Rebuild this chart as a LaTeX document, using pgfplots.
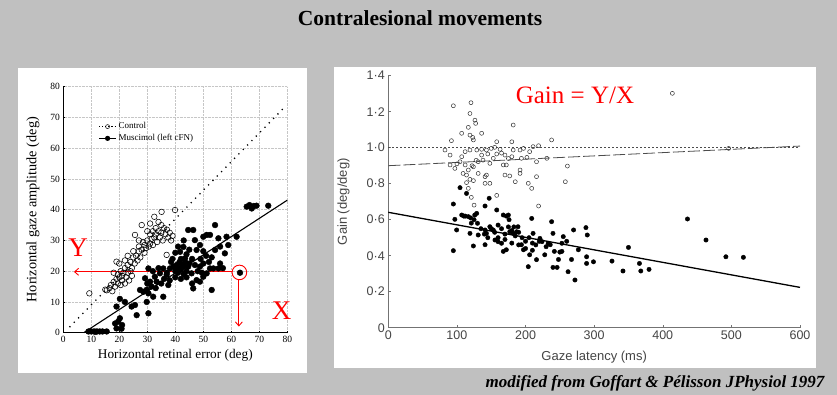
\documentclass[border=0pt]{standalone}
\usepackage{pgfplots}
\pgfplotsset{compat=1.18}
\usepackage{fontspec}
\setmainfont{Liberation Serif}
\newfontfamily\sansf{Liberation Sans}
\usetikzlibrary{arrows.meta}
\definecolor{slidegray}{HTML}{C0C0C0}
\definecolor{axgray}{HTML}{454545}
\begin{document}
\begin{tikzpicture}
\useasboundingbox (0pt,0pt) rectangle (837pt,395pt);
\fill[slidegray] (0pt,0pt) rectangle (837pt,395pt);
\fill[white] (18pt,22pt) rectangle (307pt,327pt);
\fill[white] (334pt,27pt) rectangle (816pt,328pt);
\coordinate (LO) at (63.3pt,62.3pt);
\coordinate (RO) at (388.3pt,67.3pt);
\node[font=\bfseries\fontsize{21.5}{21.5}\selectfont] at (420pt,377pt) {Contralesional movements};
\node[font=\bfseries\itshape\fontsize{17}{17}\selectfont, anchor=east] at (828pt,12pt) {modified from Goffart \& Pélisson JPhysiol 1997};

% ---------------- Left panel ----------------
\begin{axis}[at={(LO)}, anchor=south west, scale only axis,
  width=224pt, height=246pt, xmin=0, xmax=80, ymin=0, ymax=80,
  axis x line=bottom, axis y line=left,
  axis line style={-, line width=0.6pt},
  xtick={0,10,...,80}, ytick={0,10,...,80},
  tick style={black, line width=0.5pt}, major tick length=2pt, tick align=inside,
  grid=major, grid style={densely dotted, gray!45, line width=0.5pt},
  tick label style={font=\fontsize{9.5}{9.5}\selectfont},
  /pgf/number format/assume math mode=true,
  xlabel={Horizontal retinal error (deg)}, ylabel={Horizontal gaze amplitude (deg)},
  xlabel style={font=\fontsize{13.3}{13.3}\selectfont, at={(axis description cs:0.5,-0.09)}, anchor=center},
  ylabel style={font=\fontsize{14.3}{14.3}\selectfont, at={(axis description cs:-0.135,0.5)}, anchor=center, rotate=0},
  clip=false,
  legend style={at={(axis cs:12.5,69)}, anchor=north west, draw=none, fill=none,
    font=\fontsize{9}{9}\selectfont, inner sep=0pt, row sep=0pt},
  legend cell align=left,
]
\addlegendimage{dotted, line width=1.1pt, mark=o, mark options={solid, line width=0.5pt}, mark size=2pt}
\addlegendentry{Control}
\addlegendimage{solid, line width=1.1pt, mark=*, mark size=2pt}
\addlegendentry{Muscimol (left cFN)}
% regression lines
\addplot[black, line width=1.3pt, dash pattern=on 1.2pt off 5pt] coordinates {(2.2,1.8) (79.2,73.5)};
\addplot[black, line width=1.1pt] coordinates {(7.3,0) (80,43.1)};
% control
\addplot[only marks, mark=o, mark size=2.8pt, mark options={line width=0.55pt, fill=white}] coordinates {
(9.3,12.8)(19,23.1)(25.6,31.8)(28,35)(32.5,37.7)(35.1,39.3)(39.9,39.9)(36.9,25.3)
(15.5,13.8)(16.5,14.5)(17,15.5)(17.5,13.5)(18,16.5)(18.5,15)(19,17.5)(19.5,16)(19.5,19)
(20,18)(20.5,15.5)(20.5,20)(21,17)(21,18.5)(21.5,19.5)(22,16)(22,21)(22.5,18)(23,19.5)
(23,22)(23.5,17)(24,20)(24,23)(24.5,21)(25,24.5)(25.5,22.5)(26,25)(26.5,23.5)(27,26.5)
(27,28)(27.5,24.5)(28,27)(28.5,29.5)(29,26)(29,28.5)(29.5,27.5)(30,30)(30.5,28)(31,32)
(31,29)(31.5,30.5)(32,33)(32,28.5)(32.5,31)(33,34)(33,32)(33.5,29.5)(34,33)(34.5,31)
(35,35)(35,32.5)(35.5,30)(36,34)(36.5,32)(37,33.5)(37.5,31)(38,32.5)(38.5,30)(39,31.5)
(34,36)(31,35.5)(30,33)(23,25)(22,23.5)(25,26.5)(27,30)(20,22.5)(18,19.5)(15,14)(24.5,18.5)
};
% muscimol
\addplot[only marks, mark=*, mark size=2.9pt, black] coordinates {
(9,0.4)(10,0.4)(11,0.4)(12,0.4)(13,0.4)(14,0.4)(15.5,0.4)(11.5,0.3)
(19,1.4)(20.8,1.3)(18.5,3)(19.6,3.6)(20.2,4.7)(21,2.5)
(19,8.5)(20.2,11)(22,10)(24.4,8.5)(25.6,9)(26.2,5.7)(30.4,6.3)(27.4,13.9)(28.6,13.3)
(29.8,14)(30.4,12.8)(29.8,10)(32.1,11.7)(35.7,11.7)(29.2,17.7)(31,16.6)(32.7,18.2)
(33.3,16.6)(34.5,19.3)(35.7,20.9)(36.9,18.8)(38.1,20.9)(39.3,21.5)(31.5,15)(33,14.5)
(35,16)(36,17.5)(34,21)(37,19.5)(38,17)(32,20)(30,16)(37.5,15.5)(40,18)(30.4,20.9)
(40,20)(40.5,22)(41,19.5)(41,21)(41.5,23)(41.7,26.3)(42,20.5)(42,24)(42.5,22)(42.9,27.9)
(43,19)(43,21.5)(43.5,24.2)(43.5,23)(44,20)(44,25.5)(44.6,21.5)(45,22.5)(45,27)(45.8,19.3)
(46,24)(46.4,14.4)(46,16)(39,24)(38.5,23)(40,26)(41,28)(43,30)(42,17.5)(44,18)
(44.6,33.4)(46.4,33.4)(47,30.1)(47.6,26.9)(48.8,28.5)(50,31.2)(51.2,31.8)(52.4,31.8)
(54.2,35)(55.4,30.7)(56,28)(54.2,26.9)(58.3,31.2)(58.9,28.5)(57.7,25.8)
(48.8,21.5)(51.2,19.3)(52.4,20.9)(53.6,20.9)(55.4,20.9)(50,18.2)(48.8,16.6)(53,13.9)
(47.6,17.1)(49,24)(50,22.5)(51,25)(52,23)(47,22)(48,20)(53,24.5)(50,26.5)(56,22.5)(57,21)(49.5,19.5)
(61.9,31.2)(63.1,19.5)(65.5,41)(67.3,40.4)(68,41.2)(69,41.3)(66.5,41.5)(73.2,41.3)
};
% red annotations
\draw[red, line width=0.9pt, -{Straight Barb[length=4pt,width=7pt]}] (axis cs:60.3,19.8) -- (axis cs:3.8,19.8);
\draw[red, line width=0.9pt, -{Straight Barb[length=4pt,width=7pt]}] (axis cs:62.7,17.2) -- (axis cs:62.7,2);
\draw[red, line width=0.9pt] (axis cs:62.9,19.6) circle (7.3pt);
\node[red, font=\fontsize{27}{27}\selectfont] at (axis cs:5.25,27.5) {Y};
\node[red, font=\fontsize{27}{27}\selectfont] at (axis cs:78,7.1) {X};
\end{axis}

% ---------------- Right panel ----------------
\begin{axis}[at={(RO)}, anchor=south west, scale only axis,
  width=411.7pt, height=252pt, xmin=0, xmax=600, ymin=0, ymax=1.4,
  axis x line=bottom, axis y line=left,
  axis line style={-, black!55, line width=0.6pt},
  xtick={0,100,200,300,400,500,600}, xticklabels={0,100,200,300,400,500,600},
  ytick={0,0.2,0.4,0.6,0.8,1.0,1.2,1.4},
  yticklabels={0,0·2,0·4,0·6,0·8,1·0,1·2,1·4},
  tick style={black!55, line width=0.5pt}, major tick length=3pt, tick align=inside,
  tick label style={font=\sansf\fontsize{12.5}{12.5}\selectfont, text=axgray},
  xlabel={Gaze latency (ms)}, ylabel={Gain (deg/deg)},
  label style={font=\sansf\fontsize{13}{13}\selectfont, text=axgray},
  xlabel style={at={(axis description cs:0.5,-0.115)}, anchor=center},
  ylabel style={at={(axis description cs:-0.109,0.5)}, anchor=center, rotate=0},
  clip=false,
]
\addplot[black!70, line width=0.6pt, dash pattern=on 2pt off 2pt] coordinates {(0,1.0) (600,1.0)};
\addplot[black!70, line width=0.8pt, dash pattern=on 12pt off 3pt] coordinates {(0,0.9) (600,1.009)};
\addplot[black, line width=1.3pt] coordinates {(0,0.641) (600,0.224)};
% control
\addplot[only marks, mark=o, mark size=2pt, black!80, mark options={line width=0.5pt, fill=white}] coordinates {
(94.8,1.233)(120.5,1.25)(119,1.19)(126.3,1.153)(127.3,1.135)(116.6,1.113)(136,1.08)(106.9,1.08)
(119,1.07)(123,1.057)(124,1.043)(92,1.039)(182,1.126)(238,1.043)(414,1.302)(158,1.033)(180,1.033)
(219,1.011)(82.6,0.987)(90,0.959)(112,0.978)(119,0.987)(129,0.987)(136,0.991)(143,0.987)(150,0.996)
(155,1.002)(163,0.991)(170,0.959)(180,0.95)(182,0.987)(192,0.987)(197,0.996)(206,0.978)(211,1.006)
(194,0.941)(202,0.946)(231,0.941)(216,0.922)(496,0.996)(90,0.904)(97,0.885)(104.5,0.922)(112,0.904)
(116.6,0.876)(124,0.894)(131,0.857)(143,0.848)(141,0.839)(109,0.857)(114,0.848)(119,0.824)(124,0.817)
(114,0.806)(116.6,0.774)(141,0.802)(148,0.802)(167.6,0.904)(172,0.904)(170,0.848)(177,0.843)(185,0.811)
(192,0.857)(192,0.876)(204,0.802)(209,0.774)(216,0.839)(258,0.811)(261,0.898)(121,0.724)(125,0.681)
(158,0.735)(219,0.676)(131,0.922)(138,0.931)(153,0.941)(148,0.913)(158,0.965)(136,0.959)(107,0.95)
(100,0.91)(128,0.93)(165,0.97)(175,0.94)(145,0.965)(122,0.9)
};
% muscimol
\addplot[only marks, mark=*, mark size=2.2pt, black] coordinates {
(104.5,0.778)(114,0.746)(94.8,0.687)(97,0.602)(99.6,0.543)(94.8,0.428)(107,0.626)(112,0.62)
(116.6,0.617)(126,0.626)(128.8,0.635)(141,0.676)(147,0.719)(158,0.654)(167.6,0.626)(175,0.626)
(121,0.581)(119,0.524)(124,0.454)(131,0.515)(141,0.543)(143,0.524)(148,0.561)(153,0.543)(155.5,0.487)
(160,0.478)(165,0.469)(141,0.461)(167.6,0.424)(172,0.433)(177,0.533)(182,0.524)(187,0.533)(189,0.561)
(194,0.461)(197,0.433)(204,0.339)(206,0.405)(209,0.607)(211,0.524)(216,0.378)(221,0.496)(224,0.478)
(228,0.405)(233,0.469)(236,0.461)(238,0.589)(240,0.524)(242,0.424)(240,0.335)(246,0.335)(248,0.379)
(253,0.469)(255,0.506)(253,0.424)(262,0.311)(270,0.543)(272,0.265)(277,0.433)(267,0.379)(288,0.556)
(290,0.515)(289,0.394)(289,0.357)(299,0.366)(326,0.37)(342,0.315)(350,0.446)(366,0.357)(368,0.315)
(380,0.324)(436,0.604)(463,0.487)(492,0.394)(517.5,0.391)
(150,0.55)(155,0.53)(160,0.57)(165,0.55)(170,0.52)(175,0.56)(180,0.54)(185,0.51)(190,0.53)(195,0.5)
(200,0.48)(205,0.5)(210,0.47)(215,0.46)(220,0.48)(135,0.55)(140,0.52)(145,0.5)(160,0.5)(170,0.49)
(180,0.47)(190,0.46)(200,0.44)(210,0.43)(230,0.45)(250,0.42)(260,0.48)(120,0.61)(125,0.6)(130,0.58)
(110,0.62)(172,0.62)(176,0.6)(183,0.56)
};
\node[red, font=\fontsize{25}{25}\selectfont] at (axis cs:272,1.29) {Gain = Y/X};
\end{axis}
\end{tikzpicture}
\end{document}
